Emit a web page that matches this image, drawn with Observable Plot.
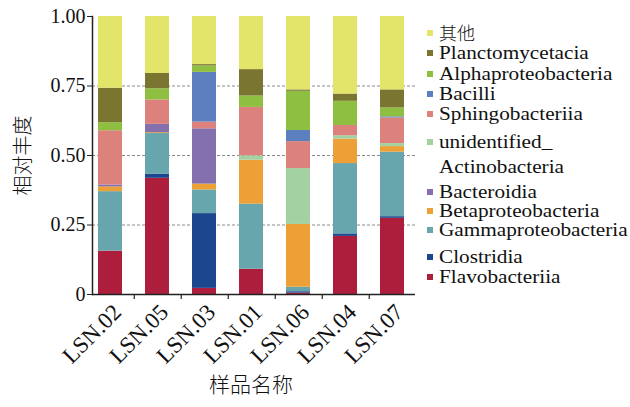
<!DOCTYPE html>
<html>
<head>
<meta charset="utf-8">
<script src="https://cdn.jsdelivr.net/npm/d3@7"></script>
<script src="https://cdn.jsdelivr.net/npm/@observablehq/plot@0.6"></script>
<style>
  html, body { margin: 0; padding: 0; background: #fff; }
  #wrap { position: relative; width: 630px; height: 407px; overflow: hidden; }
  #legend { position: absolute; left: 0; top: 0; font-family: "Liberation Serif", "Noto Sans CJK SC", serif; font-size: 18px; color: #111; }
  .item { position: absolute; left: 427px; height: 20px; line-height: 20px; white-space: nowrap; }
  .sw { position: absolute; left: 0; top: 7px; width: 6px; height: 6px; }
  .lab { position: absolute; left: 12px; top: 0; transform: scaleX(1.18); transform-origin: 0 50%; }
  .cjk { font-family: "Noto Sans CJK SC", sans-serif; font-weight: 300; font-size: 18px; line-height: 18px; top: 0px; transform: none; }
  svg g[aria-label="y-axis label"] text, svg g[aria-label="x-axis label"] text {
    font-family: "Noto Sans CJK SC", sans-serif; font-weight: 300;
  }
</style>
</head>
<body>
<div id="wrap"><div id="legend"></div></div>
<script>
const samples = ["LSN.02", "LSN.05", "LSN.03", "LSN.01", "LSN.06", "LSN.04", "LSN.07"];
// stacking order, bottom to top
const classes = ["Flavobacteriia", "Clostridia", "Gammaproteobacteria", "Betaproteobacteria", "Bacteroidia",
  "unidentified_Actinobacteria", "Sphingobacteriia", "Bacilli", "Alphaproteobacteria", "Planctomycetacia", "其他"];
const colors = ["#ac1e3c", "#1b478f", "#66a6ac", "#eca035", "#8470ad",
  "#a4d1a1", "#dd817c", "#5c7fc0", "#8fbf40", "#7a7632", "#e3e46a"];

const flavobacteriia      = [0.156, 0.418, 0.022, 0.091, 0.005, 0.209, 0.274];
const clostridia          = [0.000, 0.015, 0.269, 0.000, 0.005, 0.009, 0.006];
const gammaproteobacteria = [0.214, 0.146, 0.085, 0.234, 0.016, 0.253, 0.232];
const betaproteobacteria  = [0.017, 0.003, 0.021, 0.158, 0.226, 0.088, 0.020];
const bacteroidia         = [0.007, 0.030, 0.199, 0.000, 0.000, 0.000, 0.000];
const unidentifiedActino  = [0.000, 0.000, 0.000, 0.016, 0.201, 0.012, 0.011];
const sphingobacteriia    = [0.195, 0.088, 0.024, 0.174, 0.097, 0.037, 0.092];
const bacilli             = [0.000, 0.000, 0.179, 0.000, 0.040, 0.000, 0.004];
const alphaproteobacteria = [0.029, 0.040, 0.023, 0.041, 0.141, 0.087, 0.032];
const planctomycetacia    = [0.124, 0.055, 0.005, 0.095, 0.005, 0.026, 0.065];
const others              = [0.258, 0.205, 0.173, 0.191, 0.264, 0.279, 0.264];

const series = [flavobacteriia, clostridia, gammaproteobacteria, betaproteobacteria, bacteroidia,
  unidentifiedActino, sphingobacteriia, bacilli, alphaproteobacteria, planctomycetacia, others];

const yTicks = [0, 0.25, 0.5, 0.75, 1];
const gridTicks = [0.25, 0.5, 0.75];

const data = [];
classes.forEach((c, ci) => samples.forEach((s, si) => data.push({sample: s, cls: c, value: series[ci][si]})));

const serif = "Liberation Serif, Noto Sans CJK SC, serif";
const width = 630, height = 407;
const marginLeft = 92, marginRight = 221, marginTop = 16, marginBottom = 113;
const pInner = 0.495, pOuter = 0.084;
const step = (width - marginLeft - marginRight) / (samples.length - pInner + 2 * pOuter);

const chart = Plot.plot({
  width, height, marginLeft, marginRight, marginTop, marginBottom,
  style: {fontFamily: serif, color: "#111", background: "transparent"},
  x: {domain: samples, paddingInner: pInner, paddingOuter: pOuter, label: null},
  y: {domain: [0, 1], label: null},
  color: {domain: classes, range: colors},
  marks: [
    Plot.ruleY(gridTicks, {stroke: "#8a8a8a", strokeWidth: 1, strokeDasharray: "3,2", insetRight: -6}),
    Plot.barY(data, {x: "sample", y: "value", fill: "cls", order: classes}),
    Plot.ruleY([0], {stroke: "#222", strokeWidth: 1.5, insetRight: -6}),
    Plot.frame({anchor: "left", stroke: "#222", strokeWidth: 1.5}),
    Plot.ruleX(samples.slice(0, -1), {x: d => d, y1: 0, y2: 0, insetBottom: -5, dx: step / 2, stroke: "#222", strokeWidth: 1.2}),
    Plot.axisY({ticks: yTicks, tickFormat: d => d === 0 ? "0" : d.toFixed(2), tickSize: 5, tickPadding: 2,
      fontSize: 20, stroke: "#222",
      label: "相对丰度", labelAnchor: "center", labelArrow: "none", labelOffset: 77}),
    Plot.axisX({tickSize: 0, tickRotate: -45, tickPadding: 14, dx: 7, fontSize: 23, label: null}),
    Plot.axisX({tickSize: 0, tickFormat: () => "", fontSize: 21,
      label: "样品名称", labelAnchor: "center", labelArrow: "none", labelOffset: 97})
  ]
});
document.getElementById("wrap").prepend(chart);

// legend (top to bottom = reverse of stack order)
const legendTops = [33, 53, 74, 94, 114, 142, 192, 211, 230, 257, 277];
const legend = document.getElementById("legend");
const order = classes.map((c, i) => i).reverse();
order.forEach((ci, k) => {
  const div = document.createElement("div");
  div.className = "item";
  div.style.top = (legendTops[k] - 10) + "px";
  const sw = document.createElement("div");
  sw.className = "sw";
  sw.style.background = colors[ci];
  div.appendChild(sw);
  const lab = document.createElement("div");
  lab.className = "lab";
  const name = classes[ci];
  if (name === "其他") { lab.classList.add("cjk"); lab.textContent = name; lab.style.top = "0px"; }
  else if (name === "unidentified_Actinobacteria") { lab.innerHTML = "unidentified_<br>Actinobacteria"; lab.style.lineHeight = "25px"; lab.style.top = "-2px"; }
  else lab.textContent = name;
  div.appendChild(lab);
  legend.appendChild(div);
});
</script>
</body>
</html>
